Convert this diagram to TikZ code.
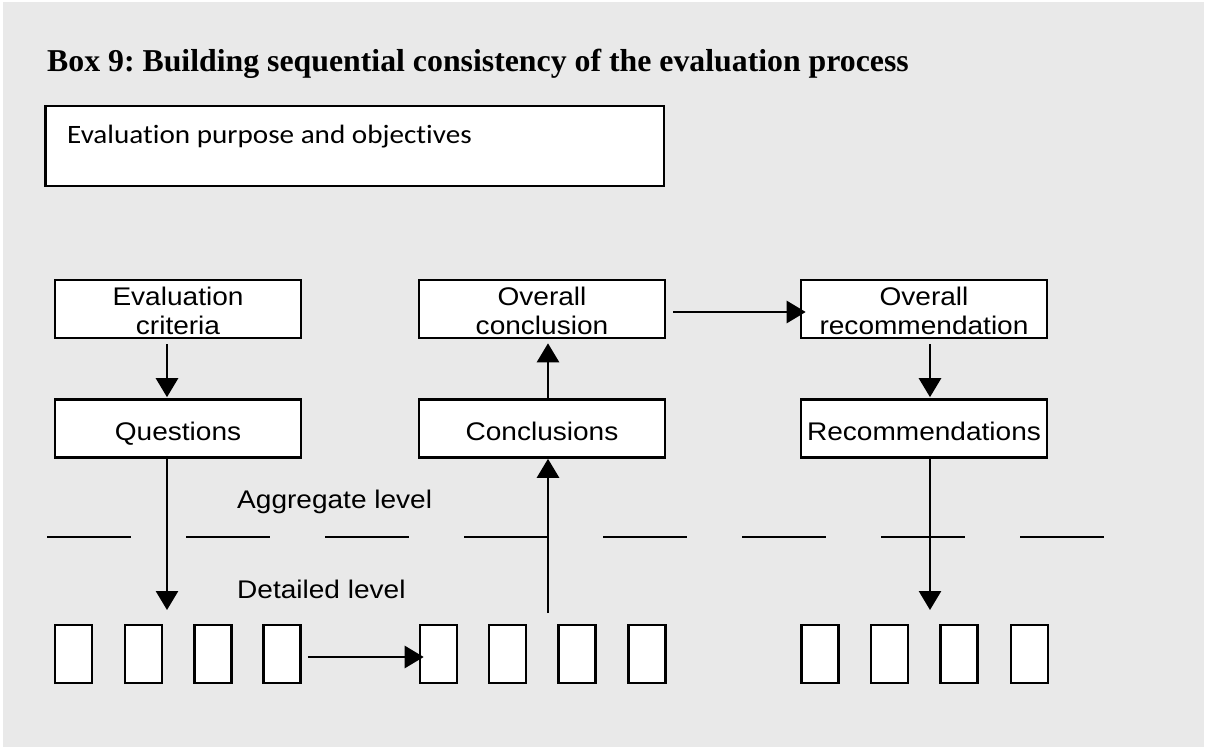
\documentclass[tikz,border=0pt]{standalone}
\usepackage{fontspec}
\setmainfont{Liberation Sans}
\newfontfamily\arialx[FakeStretch=1.1]{Liberation Sans}
\newfontfamily\calx[FakeStretch=1.1,Ligatures={NoCommon}]{Carlito}
\newfontfamily\titlef{Liberation Serif}
\usetikzlibrary{arrows.meta}
\definecolor{bgc}{HTML}{E9E9E9}
\newcommand{\tallstrut}{\rule{0pt}{22.3pt}}
\tikzset{
  box/.style={draw=black, fill=white, line width=2.6pt, inner sep=0pt, minimum width=246pt, minimum height=58pt, align=center, font=\arialx\fontsize{25.5}{29}\selectfont},
  onebox/.style={box, text height=23pt, text depth=0pt},
  cell/.style={draw=black, fill=white, line width=2.6pt, inner sep=0pt, minimum width=37pt, minimum height=58pt},
  arr/.style={line width=2.7pt, -{Triangle[length=19pt,width=22pt]}},
  lbl/.style={anchor=base west, inner sep=0pt, font=\arialx\fontsize{25.5}{29}\selectfont},
  dashseg/.style={line width=2.7pt},
}
\begin{document}
\begin{tikzpicture}[x=1pt,y=-1pt]
\fill[white] (0,0) rectangle (1205,747);
\fill[bgc] (3,2) rectangle (1203.5,747);
\useasboundingbox (0,0) rectangle (1205,747);
\node[anchor=base west, inner sep=0pt, font=\titlef\bfseries\fontsize{31.8}{36}\selectfont] (title) at (47,71) {\frenchspacing Box 9: Building sequential consistency of the evaluation process};
\node[draw=black, fill=white, line width=2.6pt, minimum width=618.5pt, minimum height=80pt, inner sep=0pt] (purpose) at (354.75,146) {};
\node[anchor=base west, inner sep=0pt, font=\calx\fontsize{26.5}{30}\selectfont] (purposetext) at (67,143) {Evaluation purpose and objectives};

\node[box] (crit) at (178,309) {\tallstrut Evaluation\\criteria};
\node[onebox] (ques) at (178,428.5) {Questions};
\node[box] (oconc) at (542,309) {\tallstrut Overall\\conclusion};
\node[onebox] (conc) at (542,428.5) {Conclusions};
\node[box] (orec) at (924,309) {\tallstrut Overall\\recommendation};
\node[onebox] (rec) at (924,428.5) {Recommendations};

\foreach \i/\x in {1/73.5,2/143.5,3/213,4/282,5/438.5,6/507.5,7/577,8/647,9/820,10/889.5,11/959,12/1029.5}
  \node[cell] (s\i) at (\x,654) {};

\foreach \k in {0,...,7}
  \draw[dashseg] ({47+139*\k},537) -- ({131+139*\k},537);

\node[lbl] (agg) at (237,508) {Aggregate level};
\node[lbl] (det) at (237,598) {Detailed level};

\coordinate (qend) at (167,610);
\coordinate (rend) at (930,610);
\coordinate (cstart) at (548,613);

\draw[arr] ([xshift=-11pt,yshift=-5pt]crit.south) -- ([xshift=-11pt,yshift=1pt]ques.north);
\draw[arr] ([xshift=6pt]conc.north) -- ([xshift=6pt,yshift=-4pt]oconc.south);
\draw[arr] ([xshift=7pt,yshift=-3pt]oconc.east) -- ([xshift=6pt,yshift=-3pt]orec.west);
\draw[arr] ([xshift=6pt,yshift=-5pt]orec.south) -- ([xshift=6pt,yshift=1pt]rec.north);
\draw[arr] ([xshift=-11pt]ques.south) -- (qend);
\draw[arr] ([xshift=6pt]rec.south) -- (rend);
\draw[arr] (cstart) -- ([xshift=6pt]conc.south);
\draw[arr] ([xshift=6pt,yshift=-3pt]s4.east) -- ([xshift=5pt,yshift=-3pt]s5.west);
\end{tikzpicture}
\end{document}
